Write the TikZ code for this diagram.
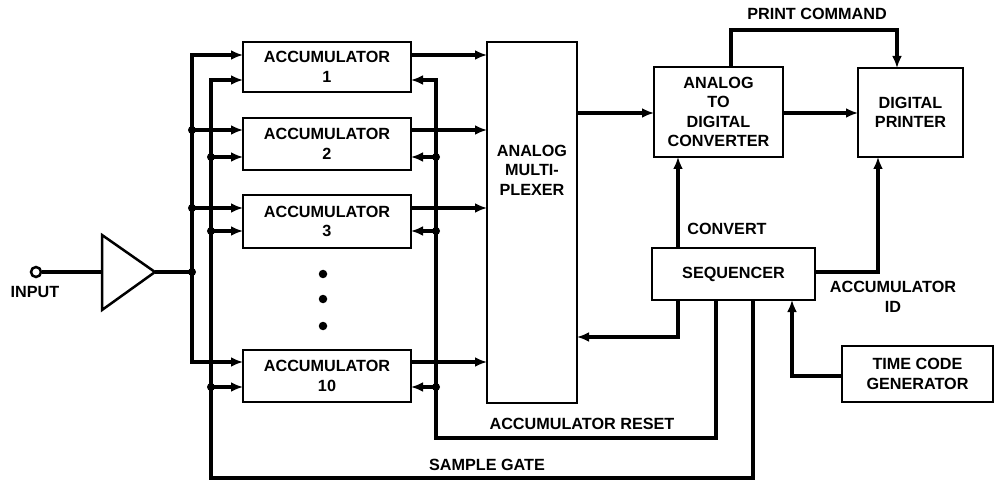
\documentclass[tikz,border=0pt]{standalone}
\usepackage{fontspec}
\setmainfont{Liberation Sans}
\usetikzlibrary{arrows.meta,calc}
\newcommand\dlbl{\fontsize{16.2}{19.5}\selectfont\bfseries}
\begin{document}
\begin{tikzpicture}[x=1pt,y=-1pt,
 box/.style={draw,line width=2.5pt,inner sep=0pt,outer sep=0pt,align=center,font=\dlbl},
 wire/.style={line width=3.2pt},
 arr/.style={wire,-{Latex[length=12pt,width=10pt]}},
 arrb/.style={wire,{Latex[length=12pt,width=10pt]}-{Latex[length=12pt,width=10pt]}},
 jdot/.style={circle,fill,inner sep=0pt,minimum size=8pt},
 edot/.style={circle,fill,inner sep=0pt,minimum size=8.5pt},
 lab/.style={font=\dlbl,align=center,inner sep=0pt}]
\useasboundingbox (0,0) rectangle (999,481);

% boxes
\node[box,minimum width=168pt,minimum height=50pt] (acc1) at (327,67) {ACCUMULATOR\\1};
\node[box,minimum width=168pt,minimum height=52pt] (acc2) at (327,144) {ACCUMULATOR\\2};
\node[box,minimum width=168pt,minimum height=53pt] (acc3) at (327,221.5) {ACCUMULATOR\\3};
\node[box,minimum width=168pt,minimum height=52pt] (acc10) at (327,376) {ACCUMULATOR\\10};
\node[box,minimum width=90pt,minimum height=361pt] (mux) at (532,222.5) {};
\node[lab] (muxt) at (532,170) {ANALOG\\MULTI-\\PLEXER};
\node[box,minimum width=129pt,minimum height=90pt] (adc) at (718.5,112) {ANALOG\\TO\\DIGITAL\\CONVERTER};
\node[box,minimum width=105pt,minimum height=89pt] (prn) at (910.5,112.5) {DIGITAL\\PRINTER};
\node[box,minimum width=163pt,minimum height=52pt] (seq) at (733.5,274) {SEQUENCER};
\node[box,minimum width=151pt,minimum height=56pt] (tcg) at (917.5,374) {TIME CODE\\GENERATOR};

% input and amplifier
\node[circle,draw,line width=2.5pt,minimum size=10pt,inner sep=0pt] (in) at (36,272) {};
\node[lab] (inlab) at (35,292) {INPUT};
\draw[line width=2.5pt,line join=miter] (102,235) -- (155,272) -- (102,310) -- cycle;
\coordinate (ampin) at (102,272);
\coordinate (ampout) at (155,272);
\coordinate (jamp) at (192,272);
\draw[wire] (in) -- (ampin);
\draw[wire] (ampout) -- (jamp);

% bus A (signal)
\draw[arrb] (acc1.west |- 0,55) -| (192,362) -- (acc10.west |- 0,362);
\draw[arr] (192,130) -- (acc2.west |- 0,130);
\draw[arr] (192,208) -- (acc3.west |- 0,208);

% sample gate bus
\draw[arr] (seq.south -| 753,0) |- (211,478) |- (acc1.west |- 0,80);
\draw[arr] (211,157) -- (acc2.west |- 0,157);
\draw[arr] (211,231) -- (acc3.west |- 0,231);
\draw[arr] (211,387) -- (acc10.west |- 0,387);

% reset bus
\draw[arr] (seq.south -| 716,0) |- (436,438) |- (acc1.east |- 0,80);
\draw[arr] (436,157) -- (acc2.east |- 0,157);
\draw[arr] (436,231) -- (acc3.east |- 0,231);
\draw[arr] (436,387) -- (acc10.east |- 0,387);

% accumulator outputs
\draw[arr] (acc1.east |- 0,55) -- (mux.west |- 0,55);
\draw[arr] (acc2.east |- 0,130) -- (mux.west |- 0,130);
\draw[arr] (acc3.east |- 0,208) -- (mux.west |- 0,208);
\draw[arr] (acc10.east |- 0,362) -- (mux.west |- 0,362);

% junction dots
\foreach \p in {(192,130),(192,208),(192,272),(211,157),(211,231),(211,387),(436,157),(436,231),(436,387)}
  \node[jdot] at \p {};
% ellipsis
\foreach \yy in {274,299,326} \node[edot] at (323,\yy) {};

% right part
\draw[arr] (mux.east |- 0,113) -- (adc.west |- 0,113);
\draw[arr] (adc.east |- 0,113) -- (prn.west |- 0,113);
\draw[arr] (adc.north -| 731,0) |- (897,30) -- (prn.north -| 897,0);
\draw[arr] (seq.north -| 678,0) -- (adc.south -| 678,0);
\draw[arr] (seq.south -| 678,0) |- (mux.east |- 0,337);
\draw[arr] (seq.east |- 0,272) -| (prn.south -| 878,0);
\draw[arr] (tcg.west |- 0,376) -| (seq.south -| 792,0);

% labels
\node[lab] (lpc) at (817,14) {PRINT COMMAND};
\node[lab] (lcv) at (727,229) {CONVERT};
\node[lab] (lid) at (893,297) {ACCUMULATOR\\ID};
\node[lab] (lrs) at (582,424) {ACCUMULATOR RESET};
\node[lab] (lsg) at (487,465) {SAMPLE GATE};
\end{tikzpicture}
\end{document}
